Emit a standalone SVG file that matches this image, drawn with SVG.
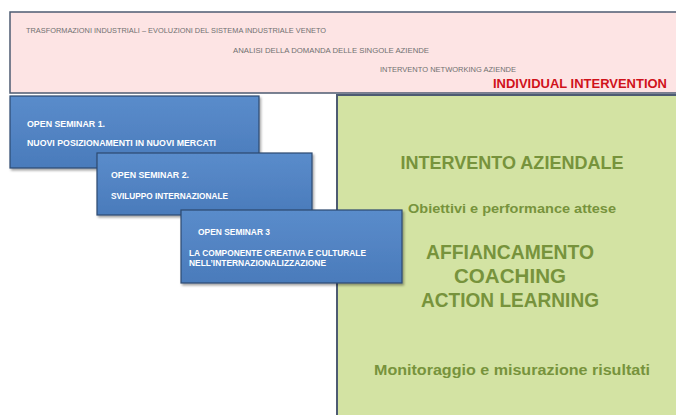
<svg xmlns="http://www.w3.org/2000/svg" width="676" height="415" viewBox="0 0 676 415">
<defs>
<linearGradient id="blueGrad" x1="0" y1="0" x2="0" y2="1">
<stop offset="0" stop-color="#5a8ccb"/>
<stop offset="1" stop-color="#4a7bbb"/>
</linearGradient>
<filter id="shadow" x="-10%" y="-10%" width="120%" height="130%">
<feDropShadow dx="1.5" dy="2" stdDeviation="1.2" flood-color="#000" flood-opacity="0.35"/>
</filter>
</defs>
<style>
.hdr{font-family:"Liberation Sans",Arial,sans-serif;font-size:7px;fill:#707070}
.sem{font-family:"Liberation Sans",Arial,sans-serif;font-size:8.5px;font-weight:bold;fill:#ffffff}
.box{fill:url(#blueGrad);stroke:#2c4a70;stroke-width:1.2}
.grn{font-family:"Liberation Sans",Arial,sans-serif;font-weight:bold;fill:#77933c;text-anchor:middle}
</style>
<rect width="676" height="415" fill="#ffffff"/>
<g id="header">
<rect x="10" y="12" width="680" height="81" fill="#fde4e4" stroke="#4d5b72" stroke-width="1.5"/>
<text class="hdr" x="26" y="33" textLength="300" lengthAdjust="spacingAndGlyphs">TRASFORMAZIONI  INDUSTRIALI  – EVOLUZIONI  DEL SISTEMA  INDUSTRIALE  VENETO</text>
<text class="hdr" x="233" y="53" textLength="196" lengthAdjust="spacingAndGlyphs">ANALISI  DELLA  DOMANDA  DELLE SINGOLE  AZIENDE</text>
<text class="hdr" x="380" y="72" textLength="136" lengthAdjust="spacingAndGlyphs">INTERVENTO  NETWORKING  AZIENDE</text>
<text x="493" y="88" textLength="174" lengthAdjust="spacingAndGlyphs" style="font-family:'Liberation Sans',Arial,sans-serif;font-size:13.5px;font-weight:bold;fill:#d0121b">INDIVIDUAL INTERVENTION</text>
</g>
<g id="intervento">
<rect x="337" y="95" width="345" height="325" fill="#d3e3a3" stroke="#4d5b72" stroke-width="2"/>
<text class="grn" x="512" y="169" font-size="18.5" textLength="223" lengthAdjust="spacingAndGlyphs">INTERVENTO  AZIENDALE</text>
<text class="grn" x="512" y="213" font-size="12" textLength="208" lengthAdjust="spacingAndGlyphs">Obiettivi e performance attese</text>
<text class="grn" x="510" y="259" font-size="19.5" textLength="168" lengthAdjust="spacingAndGlyphs">AFFIANCAMENTO</text>
<text class="grn" x="510" y="283" font-size="19.5" textLength="112" lengthAdjust="spacingAndGlyphs">COACHING</text>
<text class="grn" x="510" y="307" font-size="19.5" textLength="178" lengthAdjust="spacingAndGlyphs">ACTION LEARNING</text>
<text class="grn" x="512" y="375" font-size="14" textLength="276" lengthAdjust="spacingAndGlyphs">Monitoraggio e misurazione risultati</text>
</g>
<g id="seminar1">
<rect class="box" x="10" y="96" width="249" height="72" filter="url(#shadow)"/>
<text class="sem" x="27" y="127" textLength="78" lengthAdjust="spacingAndGlyphs">OPEN SEMINAR 1.</text>
<text class="sem" x="27" y="146" textLength="189" lengthAdjust="spacingAndGlyphs">NUOVI POSIZIONAMENTI IN NUOVI MERCATI</text>
</g>
<g id="seminar2">
<rect class="box" x="97" y="153" width="215" height="62" filter="url(#shadow)"/>
<text class="sem" x="111" y="178" textLength="78" lengthAdjust="spacingAndGlyphs">OPEN SEMINAR 2.</text>
<text class="sem" x="111" y="199" textLength="117" lengthAdjust="spacingAndGlyphs">SVILUPPO INTERNAZIONALE</text>
</g>
<g id="seminar3">
<rect class="box" x="181" y="210" width="221" height="73" filter="url(#shadow)"/>
<text class="sem" x="198" y="235" textLength="72" lengthAdjust="spacingAndGlyphs">OPEN SEMINAR 3</text>
<text class="sem" x="189" y="256" textLength="177" lengthAdjust="spacingAndGlyphs">LA COMPONENTE CREATIVA E CULTURALE</text>
<text class="sem" x="189" y="266" textLength="137" lengthAdjust="spacingAndGlyphs">NELL’INTERNAZIONALIZZAZIONE</text>
</g>
<g id="connectors"/>
</svg>
